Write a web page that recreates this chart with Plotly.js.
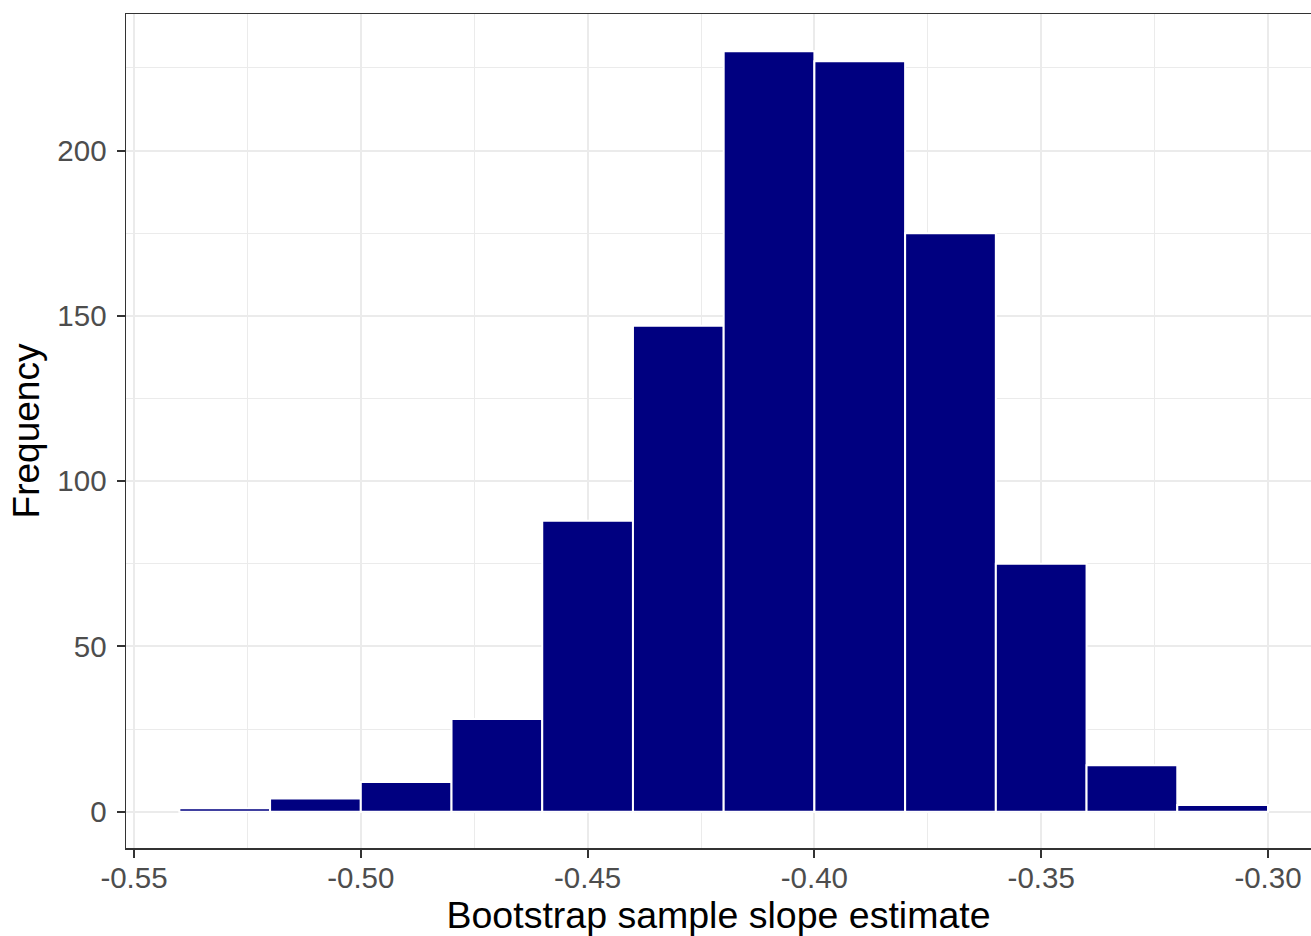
<!DOCTYPE html>
<html>
<head>
<meta charset="utf-8">
<script src="https://cdn.plot.ly/plotly-3.0.1.min.js"></script>
<style>
  html, body { margin: 0; padding: 0; background: #ffffff; }
  #chart { width: 1311px; height: 936px; }
</style>
</head>
<body>
<div id="chart"></div>
<script>
// Histogram bins (left edges) and their counts
const binLeft = [-0.54, -0.52, -0.50, -0.48, -0.46, -0.44, -0.42, -0.40, -0.38, -0.36, -0.34, -0.32];
const binWidth = 0.02;
const counts  = [1, 4, 9, 28, 88, 147, 230, 227, 175, 75, 14, 2];

const xTickVals = [-0.55, -0.50, -0.45, -0.40, -0.35, -0.30];
const xTickText = ["-0.55", "-0.50", "-0.45", "-0.40", "-0.35", "-0.30"];
const yTickVals = [0, 50, 100, 150, 200];
const yTickText = ["0", "50", "100", "150", "200"];

const xTitle = "Bootstrap sample slope estimate";
const yTitle = "Frequency";

const centers = binLeft.map(v => v + binWidth / 2);

const trace = {
  type: "bar",
  x: centers,
  y: counts,
  width: binLeft.map(() => binWidth),
  marker: { color: "#000080", line: { color: "#ffffff", width: 2 } },
  hoverinfo: "x+y"
};

const font = "Liberation Sans, Arial, Helvetica, sans-serif";

const layout = {
  width: 1311,
  height: 936,
  margin: { l: 126, r: 0, t: 14, b: 88 },
  paper_bgcolor: "#ffffff",
  plot_bgcolor: "#ffffff",
  showlegend: false,
  bargap: 0,
  font: { family: font },
  xaxis: {
    range: [-0.551764, -0.29052],
    tickvals: xTickVals,
    ticktext: xTickText,
    ticks: "outside",
    ticklen: 8,
    tickwidth: 2,
    tickcolor: "#333333",
    tickfont: { family: font, size: 29.5, color: "#4D4D4D" },
    ticklabelstandoff: -5,
    showgrid: true,
    gridcolor: "#EBEBEB",
    gridwidth: 2,
    minor: { tickvals: [-0.525, -0.475, -0.425, -0.375, -0.325], showgrid: true, gridcolor: "#EBEBEB", gridwidth: 1, ticks: "" },
    showline: true,
    linecolor: "#333333",
    linewidth: 1.5,
    mirror: true,
    zeroline: false,
    title: { text: xTitle, font: { family: font, size: 37.5, color: "#000000" }, standoff: 9 }
  },
  yaxis: {
    range: [-11, 241.3],
    tickvals: yTickVals,
    ticktext: yTickText,
    ticks: "outside",
    ticklen: 8,
    tickwidth: 2,
    tickcolor: "#333333",
    tickfont: { family: font, size: 29.5, color: "#4D4D4D" },
    ticklabelstandoff: 4,
    showgrid: true,
    gridcolor: "#EBEBEB",
    gridwidth: 2,
    minor: { tickvals: [25, 75, 125, 175, 225], showgrid: true, gridcolor: "#EBEBEB", gridwidth: 1, ticks: "" },
    showline: true,
    linecolor: "#333333",
    linewidth: 1.5,
    mirror: false,
    zeroline: false,
    title: { text: yTitle, font: { family: font, size: 37, color: "#000000" }, standoff: 6 }
  }
};

Plotly.newPlot("chart", [trace], layout, { displayModeBar: false, staticPlot: true });
</script>
</body>
</html>
